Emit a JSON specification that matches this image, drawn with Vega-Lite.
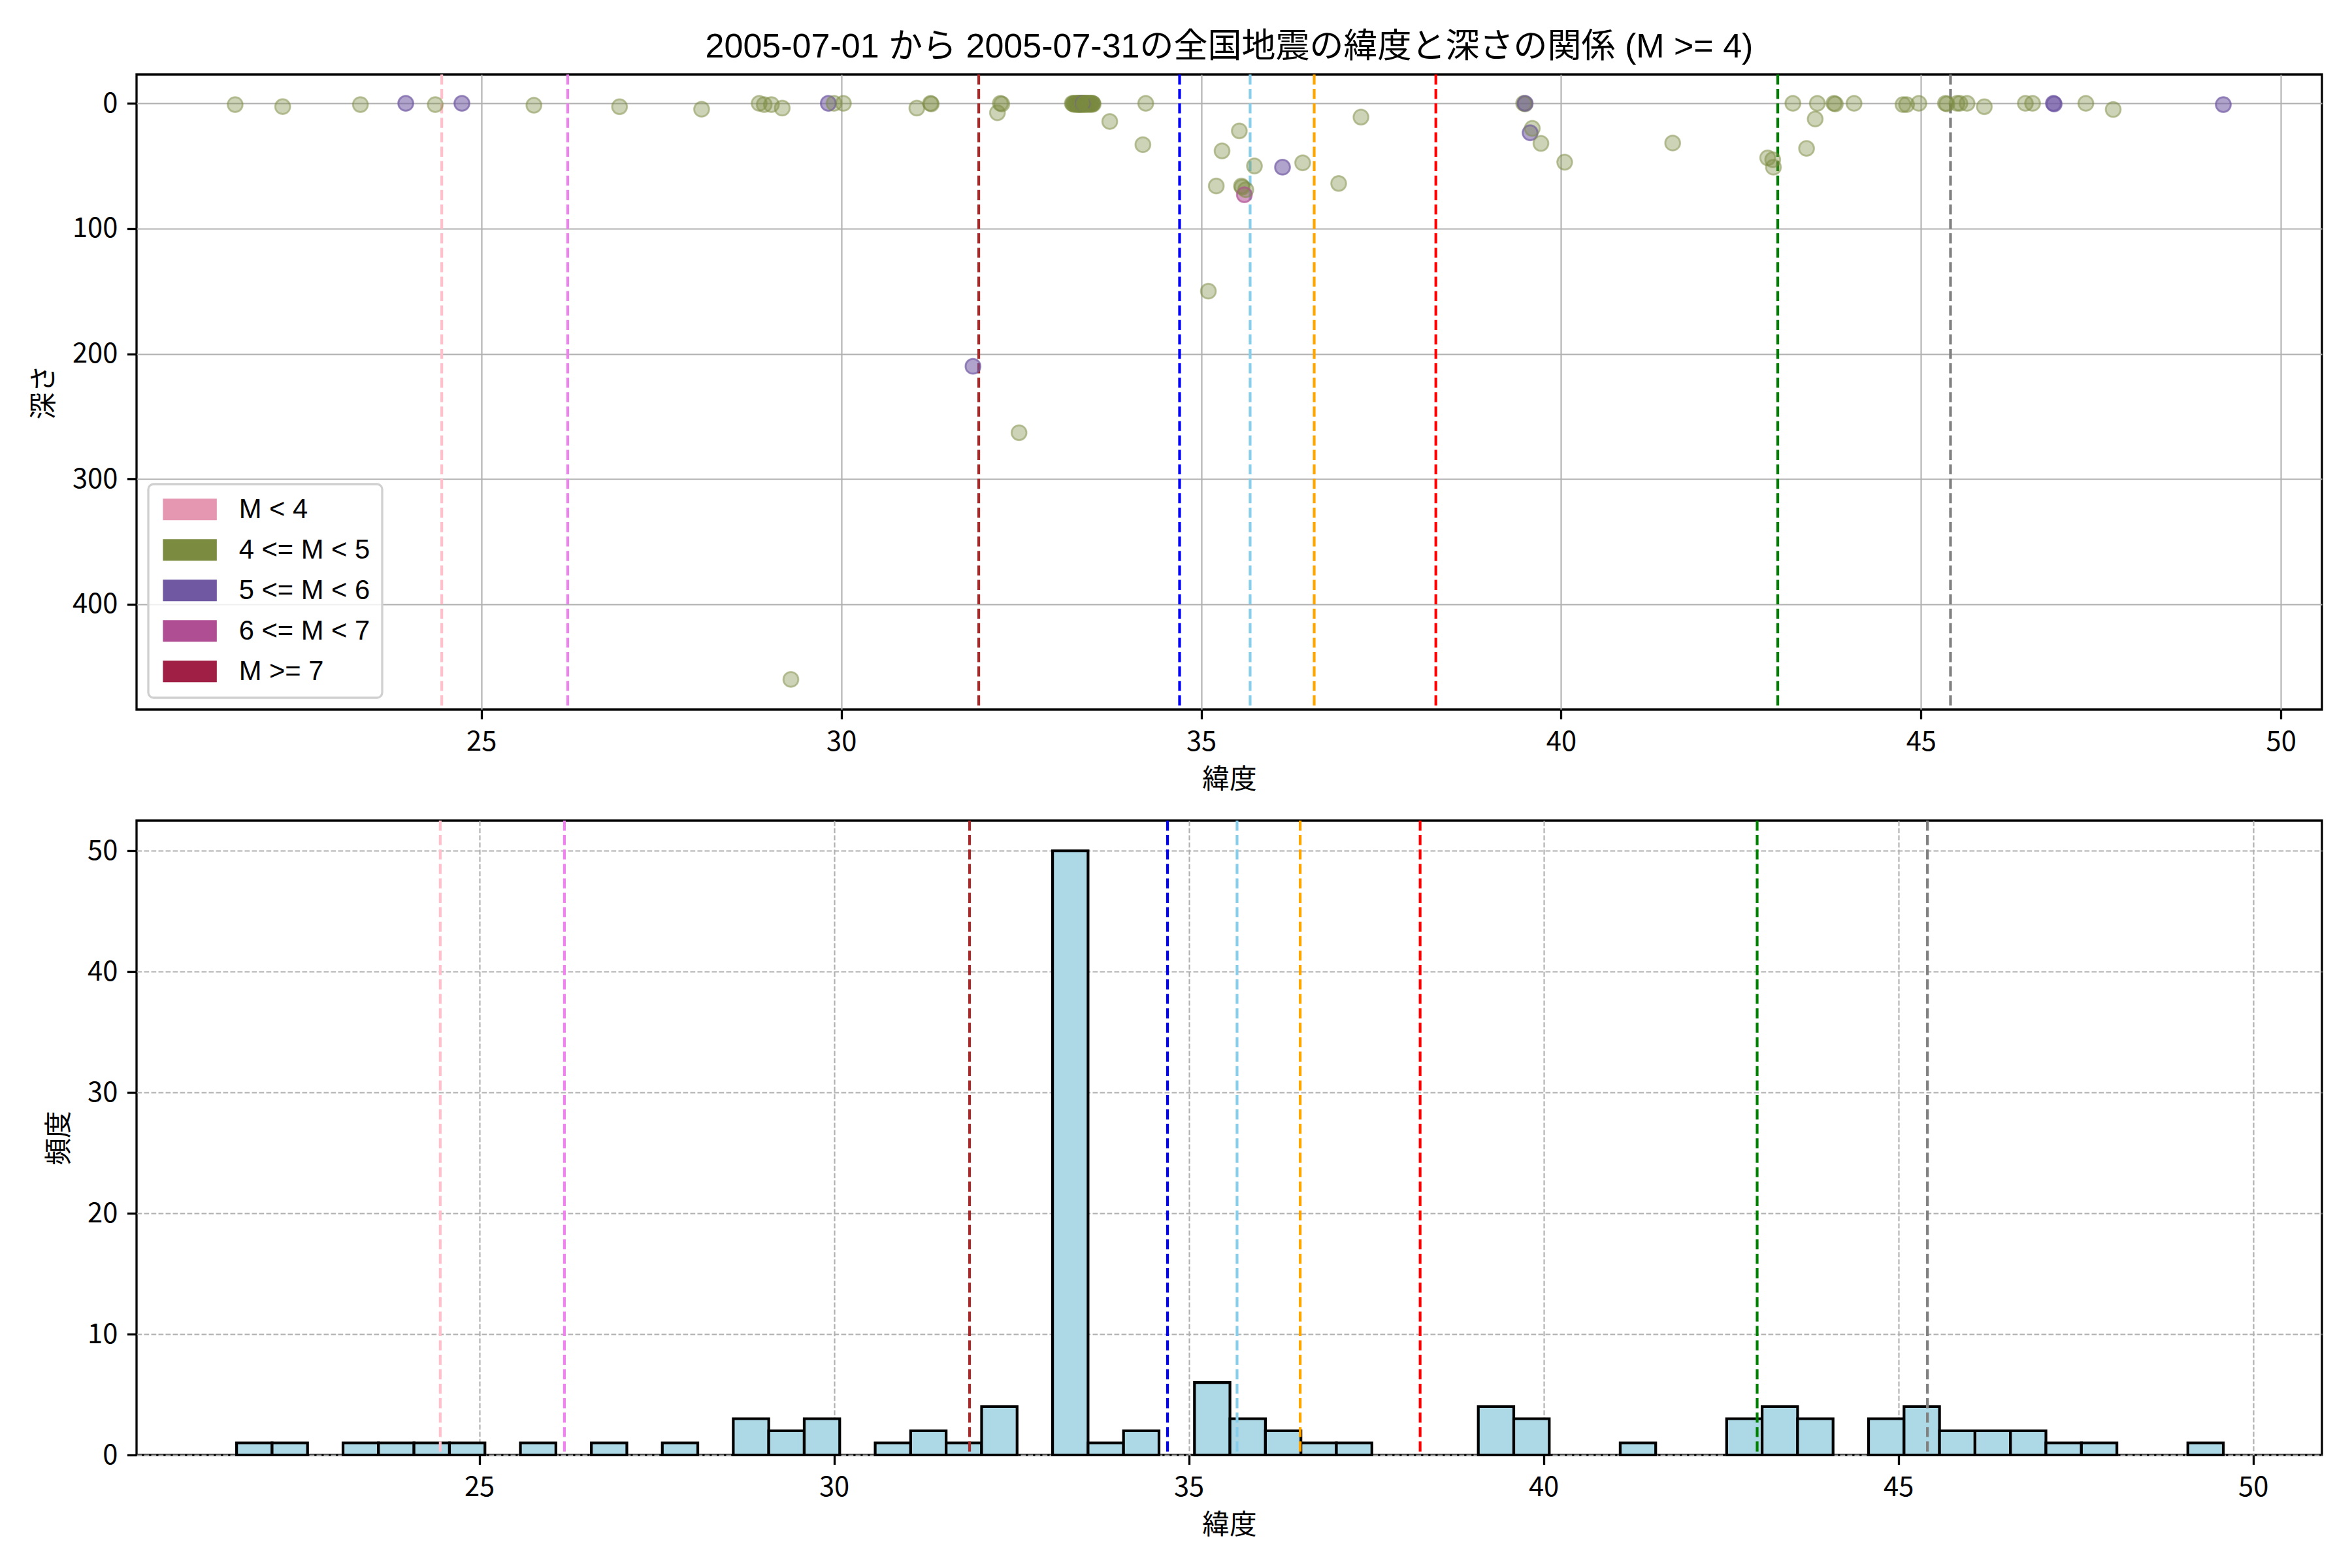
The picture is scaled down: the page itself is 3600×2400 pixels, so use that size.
{
  "$schema": "https://vega.github.io/schema/vega-lite/v6.json",
  "autosize": {"type": "none"},
  "padding": {"left": 209, "top": 114, "right": 3391, "bottom": 2286},
  "background": "white",
  "bounds": "flush",
  "spacing": 170,
  "resolve": {"scale": {"color": "independent"}, "legend": {"color": "independent"}},
  "config": {
    "font": "Noto Sans CJK JP",
    "view": {"stroke": "black", "strokeWidth": 3.3},
    "axis": {
      "labelFont": "Noto Sans CJK JP", "labelFontSize": 41.7, "labelColor": "black",
      "titleFont": "Noto Sans CJK JP", "titleFontSize": 41.7, "titleFontWeight": "normal", "titleColor": "black",
      "tickSize": 14.6, "tickWidth": 3.3, "tickColor": "black",
      "labelPadding": 14.6, "titlePadding": 16.7,
      "domain": false, "format": "d",
      "gridColor": "#b0b0b0", "gridWidth": 2.1, "gridOpacity": 1,
      "zindex": 1
    },
    "axisY": {"titlePadding": 21}
  },
  "datasets": {
    "quakes": [
      {"lat": 21.58, "depth": 1, "mag_class": "4 <= M < 5"},
      {"lat": 22.24, "depth": 2.6, "mag_class": "4 <= M < 5"},
      {"lat": 23.32, "depth": 1, "mag_class": "4 <= M < 5"},
      {"lat": 23.95, "depth": 0, "mag_class": "5 <= M < 6"},
      {"lat": 24.36, "depth": 1, "mag_class": "4 <= M < 5"},
      {"lat": 24.73, "depth": 0, "mag_class": "5 <= M < 6"},
      {"lat": 25.73, "depth": 1.5, "mag_class": "4 <= M < 5"},
      {"lat": 26.92, "depth": 2.7, "mag_class": "4 <= M < 5"},
      {"lat": 28.06, "depth": 4.7, "mag_class": "4 <= M < 5"},
      {"lat": 28.86, "depth": 0, "mag_class": "4 <= M < 5"},
      {"lat": 28.93, "depth": 1, "mag_class": "4 <= M < 5"},
      {"lat": 29.03, "depth": 1, "mag_class": "4 <= M < 5"},
      {"lat": 29.18, "depth": 3.8, "mag_class": "4 <= M < 5"},
      {"lat": 29.30, "depth": 460, "mag_class": "4 <= M < 5"},
      {"lat": 29.82, "depth": 0, "mag_class": "5 <= M < 6"},
      {"lat": 29.90, "depth": 0, "mag_class": "4 <= M < 5"},
      {"lat": 30.03, "depth": 0, "mag_class": "4 <= M < 5"},
      {"lat": 31.05, "depth": 3.8, "mag_class": "4 <= M < 5"},
      {"lat": 31.24, "depth": 0, "mag_class": "4 <= M < 5"},
      {"lat": 31.25, "depth": 0.5, "mag_class": "4 <= M < 5"},
      {"lat": 31.83, "depth": 210, "mag_class": "5 <= M < 6"},
      {"lat": 32.17, "depth": 7.5, "mag_class": "4 <= M < 5"},
      {"lat": 32.21, "depth": 0, "mag_class": "4 <= M < 5"},
      {"lat": 32.23, "depth": 0.5, "mag_class": "4 <= M < 5"},
      {"lat": 32.47, "depth": 263, "mag_class": "4 <= M < 5"},
      {"lat": 33.21, "depth": 0, "mag_class": "4 <= M < 5"},
      {"lat": 33.22, "depth": 0.5, "mag_class": "4 <= M < 5"},
      {"lat": 33.23, "depth": 0, "mag_class": "4 <= M < 5"},
      {"lat": 33.24, "depth": 1, "mag_class": "4 <= M < 5"},
      {"lat": 33.25, "depth": 0, "mag_class": "4 <= M < 5"},
      {"lat": 33.26, "depth": 0.5, "mag_class": "4 <= M < 5"},
      {"lat": 33.27, "depth": 0, "mag_class": "4 <= M < 5"},
      {"lat": 33.28, "depth": 0, "mag_class": "4 <= M < 5"},
      {"lat": 33.28, "depth": 1, "mag_class": "4 <= M < 5"},
      {"lat": 33.29, "depth": 0, "mag_class": "4 <= M < 5"},
      {"lat": 33.29, "depth": 0.5, "mag_class": "4 <= M < 5"},
      {"lat": 33.30, "depth": 0, "mag_class": "4 <= M < 5"},
      {"lat": 33.30, "depth": 1, "mag_class": "4 <= M < 5"},
      {"lat": 33.30, "depth": 0, "mag_class": "4 <= M < 5"},
      {"lat": 33.31, "depth": 0.5, "mag_class": "4 <= M < 5"},
      {"lat": 33.31, "depth": 0, "mag_class": "4 <= M < 5"},
      {"lat": 33.32, "depth": 0, "mag_class": "4 <= M < 5"},
      {"lat": 33.32, "depth": 1, "mag_class": "4 <= M < 5"},
      {"lat": 33.33, "depth": 0, "mag_class": "4 <= M < 5"},
      {"lat": 33.33, "depth": 0.5, "mag_class": "4 <= M < 5"},
      {"lat": 33.33, "depth": 0, "mag_class": "4 <= M < 5"},
      {"lat": 33.34, "depth": 0, "mag_class": "4 <= M < 5"},
      {"lat": 33.34, "depth": 1, "mag_class": "4 <= M < 5"},
      {"lat": 33.35, "depth": 0, "mag_class": "4 <= M < 5"},
      {"lat": 33.35, "depth": 0.5, "mag_class": "4 <= M < 5"},
      {"lat": 33.35, "depth": 0, "mag_class": "4 <= M < 5"},
      {"lat": 33.36, "depth": 0, "mag_class": "4 <= M < 5"},
      {"lat": 33.36, "depth": 0, "mag_class": "5 <= M < 6"},
      {"lat": 33.37, "depth": 0, "mag_class": "4 <= M < 5"},
      {"lat": 33.37, "depth": 1, "mag_class": "4 <= M < 5"},
      {"lat": 33.38, "depth": 0, "mag_class": "4 <= M < 5"},
      {"lat": 33.38, "depth": 0.5, "mag_class": "4 <= M < 5"},
      {"lat": 33.39, "depth": 0, "mag_class": "4 <= M < 5"},
      {"lat": 33.39, "depth": 0, "mag_class": "4 <= M < 5"},
      {"lat": 33.40, "depth": 1, "mag_class": "4 <= M < 5"},
      {"lat": 33.40, "depth": 0, "mag_class": "4 <= M < 5"},
      {"lat": 33.41, "depth": 0, "mag_class": "4 <= M < 5"},
      {"lat": 33.41, "depth": 0.5, "mag_class": "4 <= M < 5"},
      {"lat": 33.42, "depth": 0, "mag_class": "4 <= M < 5"},
      {"lat": 33.43, "depth": 0, "mag_class": "4 <= M < 5"},
      {"lat": 33.44, "depth": 1, "mag_class": "4 <= M < 5"},
      {"lat": 33.44, "depth": 0, "mag_class": "4 <= M < 5"},
      {"lat": 33.45, "depth": 0, "mag_class": "4 <= M < 5"},
      {"lat": 33.46, "depth": 0.5, "mag_class": "4 <= M < 5"},
      {"lat": 33.46, "depth": 0, "mag_class": "4 <= M < 5"},
      {"lat": 33.47, "depth": 0, "mag_class": "4 <= M < 5"},
      {"lat": 33.48, "depth": 1, "mag_class": "4 <= M < 5"},
      {"lat": 33.49, "depth": 0, "mag_class": "4 <= M < 5"},
      {"lat": 33.49, "depth": 0, "mag_class": "4 <= M < 5"},
      {"lat": 33.50, "depth": 0.5, "mag_class": "4 <= M < 5"},
      {"lat": 33.73, "depth": 14.5, "mag_class": "4 <= M < 5"},
      {"lat": 34.19, "depth": 33, "mag_class": "4 <= M < 5"},
      {"lat": 34.23, "depth": 0, "mag_class": "4 <= M < 5"},
      {"lat": 35.10, "depth": 150, "mag_class": "4 <= M < 5"},
      {"lat": 35.21, "depth": 66, "mag_class": "4 <= M < 5"},
      {"lat": 35.29, "depth": 38, "mag_class": "4 <= M < 5"},
      {"lat": 35.53, "depth": 22, "mag_class": "4 <= M < 5"},
      {"lat": 35.56, "depth": 66, "mag_class": "4 <= M < 5"},
      {"lat": 35.57, "depth": 67, "mag_class": "4 <= M < 5"},
      {"lat": 35.60, "depth": 73, "mag_class": "6 <= M < 7"},
      {"lat": 35.62, "depth": 69, "mag_class": "4 <= M < 5"},
      {"lat": 35.74, "depth": 50, "mag_class": "4 <= M < 5"},
      {"lat": 36.13, "depth": 51, "mag_class": "5 <= M < 6"},
      {"lat": 36.41, "depth": 47.5, "mag_class": "4 <= M < 5"},
      {"lat": 36.91, "depth": 64, "mag_class": "4 <= M < 5"},
      {"lat": 37.22, "depth": 11, "mag_class": "4 <= M < 5"},
      {"lat": 39.48, "depth": 0, "mag_class": "4 <= M < 5"},
      {"lat": 39.50, "depth": 0.5, "mag_class": "4 <= M < 5"},
      {"lat": 39.50, "depth": 0, "mag_class": "5 <= M < 6"},
      {"lat": 39.57, "depth": 23.5, "mag_class": "5 <= M < 6"},
      {"lat": 39.60, "depth": 20, "mag_class": "4 <= M < 5"},
      {"lat": 39.72, "depth": 32, "mag_class": "4 <= M < 5"},
      {"lat": 40.05, "depth": 47, "mag_class": "4 <= M < 5"},
      {"lat": 41.55, "depth": 31.7, "mag_class": "4 <= M < 5"},
      {"lat": 42.87, "depth": 43.5, "mag_class": "4 <= M < 5"},
      {"lat": 42.94, "depth": 45, "mag_class": "4 <= M < 5"},
      {"lat": 42.95, "depth": 51, "mag_class": "4 <= M < 5"},
      {"lat": 43.22, "depth": 0, "mag_class": "4 <= M < 5"},
      {"lat": 43.41, "depth": 36, "mag_class": "4 <= M < 5"},
      {"lat": 43.53, "depth": 12.5, "mag_class": "4 <= M < 5"},
      {"lat": 43.56, "depth": 0, "mag_class": "4 <= M < 5"},
      {"lat": 43.79, "depth": 0, "mag_class": "4 <= M < 5"},
      {"lat": 43.81, "depth": 0.5, "mag_class": "4 <= M < 5"},
      {"lat": 44.07, "depth": 0, "mag_class": "4 <= M < 5"},
      {"lat": 44.75, "depth": 1, "mag_class": "4 <= M < 5"},
      {"lat": 44.80, "depth": 1, "mag_class": "4 <= M < 5"},
      {"lat": 44.97, "depth": 0, "mag_class": "4 <= M < 5"},
      {"lat": 45.34, "depth": 0, "mag_class": "4 <= M < 5"},
      {"lat": 45.36, "depth": 0.5, "mag_class": "4 <= M < 5"},
      {"lat": 45.50, "depth": 0, "mag_class": "4 <= M < 5"},
      {"lat": 45.54, "depth": 0, "mag_class": "4 <= M < 5"},
      {"lat": 45.64, "depth": 0, "mag_class": "4 <= M < 5"},
      {"lat": 45.88, "depth": 2.7, "mag_class": "4 <= M < 5"},
      {"lat": 46.45, "depth": 0, "mag_class": "4 <= M < 5"},
      {"lat": 46.55, "depth": 0, "mag_class": "4 <= M < 5"},
      {"lat": 46.84, "depth": 0, "mag_class": "5 <= M < 6"},
      {"lat": 46.85, "depth": 0.5, "mag_class": "5 <= M < 6"},
      {"lat": 47.29, "depth": 0, "mag_class": "4 <= M < 5"},
      {"lat": 47.67, "depth": 4.9, "mag_class": "4 <= M < 5"},
      {"lat": 49.20, "depth": 1, "mag_class": "5 <= M < 6"}
    ],
    "hist": [
      {"bin_start": 21.58, "bin_end": 22.08, "count": 1},
      {"bin_start": 22.08, "bin_end": 22.58, "count": 1},
      {"bin_start": 23.08, "bin_end": 23.58, "count": 1},
      {"bin_start": 23.58, "bin_end": 24.08, "count": 1},
      {"bin_start": 24.08, "bin_end": 24.58, "count": 1},
      {"bin_start": 24.58, "bin_end": 25.08, "count": 1},
      {"bin_start": 25.58, "bin_end": 26.08, "count": 1},
      {"bin_start": 26.58, "bin_end": 27.08, "count": 1},
      {"bin_start": 27.58, "bin_end": 28.08, "count": 1},
      {"bin_start": 28.58, "bin_end": 29.08, "count": 3},
      {"bin_start": 29.08, "bin_end": 29.58, "count": 2},
      {"bin_start": 29.58, "bin_end": 30.08, "count": 3},
      {"bin_start": 30.58, "bin_end": 31.08, "count": 1},
      {"bin_start": 31.08, "bin_end": 31.58, "count": 2},
      {"bin_start": 31.58, "bin_end": 32.08, "count": 1},
      {"bin_start": 32.08, "bin_end": 32.58, "count": 4},
      {"bin_start": 33.08, "bin_end": 33.58, "count": 50},
      {"bin_start": 33.58, "bin_end": 34.08, "count": 1},
      {"bin_start": 34.08, "bin_end": 34.58, "count": 2},
      {"bin_start": 35.08, "bin_end": 35.58, "count": 6},
      {"bin_start": 35.58, "bin_end": 36.08, "count": 3},
      {"bin_start": 36.08, "bin_end": 36.58, "count": 2},
      {"bin_start": 36.58, "bin_end": 37.08, "count": 1},
      {"bin_start": 37.08, "bin_end": 37.58, "count": 1},
      {"bin_start": 39.08, "bin_end": 39.58, "count": 4},
      {"bin_start": 39.58, "bin_end": 40.08, "count": 3},
      {"bin_start": 41.08, "bin_end": 41.58, "count": 1},
      {"bin_start": 42.58, "bin_end": 43.08, "count": 3},
      {"bin_start": 43.08, "bin_end": 43.58, "count": 4},
      {"bin_start": 43.58, "bin_end": 44.08, "count": 3},
      {"bin_start": 44.58, "bin_end": 45.08, "count": 3},
      {"bin_start": 45.08, "bin_end": 45.58, "count": 4},
      {"bin_start": 45.58, "bin_end": 46.08, "count": 2},
      {"bin_start": 46.08, "bin_end": 46.58, "count": 2},
      {"bin_start": 46.58, "bin_end": 47.08, "count": 2},
      {"bin_start": 47.08, "bin_end": 47.58, "count": 1},
      {"bin_start": 47.58, "bin_end": 48.08, "count": 1},
      {"bin_start": 49.08, "bin_end": 49.58, "count": 1}
    ],
    "cities": [
      {"lat": 24.45, "color": "#ffc0cb"},
      {"lat": 26.20, "color": "#ee82ee"},
      {"lat": 31.91, "color": "#a52a2a"},
      {"lat": 34.70, "color": "#0000ff"},
      {"lat": 35.68, "color": "#87ceeb"},
      {"lat": 36.57, "color": "#ffa500"},
      {"lat": 38.26, "color": "#ff0000"},
      {"lat": 43.01, "color": "#008000"},
      {"lat": 45.41, "color": "#808080"}
    ]
  },
  "vconcat": [
    {
      "title": {"text": "2005-07-01 から 2005-07-31の全国地震の緯度と深さの関係 (M >= 4)", "font": "Liberation Sans, Noto Sans CJK JP", "fontSize": 52, "fontWeight": "normal", "color": "black", "anchor": "middle", "offset": 13},
      "width": 3345,
      "height": 972,
      "layer": [
        {
          "data": {"name": "cities"},
          "mark": {"type": "rule", "strokeDash": [15.4, 6.7], "strokeWidth": 4.2},
          "encoding": {
            "x": {"field": "lat", "type": "quantitative", "scale": {"domain": [20.21, 50.57], "nice": false, "zero": false}, "axis": {"title": "緯度", "values": [25, 30, 35, 40, 45, 50], "grid": true}},
            "stroke": {"field": "color", "type": "nominal", "scale": null}
          }
        },
        {
          "data": {"name": "quakes"},
          "mark": {"type": "point", "shape": "circle", "filled": true, "opacity": 1, "strokeWidth": 0, "size": 600},
          "encoding": {
            "x": {"field": "lat", "type": "quantitative"},
            "y": {"field": "depth", "type": "quantitative", "scale": {"domain": [-23.05, 484.05], "reverse": true, "nice": false, "zero": false}, "axis": {"title": "深さ", "values": [0, 100, 200, 300, 400], "grid": true}},
            "fillOpacity": {"condition": {"test": "datum.mag_class !== '4 <= M < 5'", "value": 0.55}, "value": 0.38},
            "color": {
              "field": "mag_class", "type": "nominal",
              "scale": {"domain": ["M < 4", "4 <= M < 5", "5 <= M < 6", "6 <= M < 7", "M >= 7"], "range": ["#e597b2", "#7b8c41", "#7058a3", "#b04e94", "#a01f44"]},
              "legend": {
                "title": null, "orient": "bottom-left", "offset": 18,
                "fillColor": "rgba(255,255,255,0.8)", "strokeColor": "#d0d0d0", "cornerRadius": 8,
                "padding": 18,
                "labelFont": "Liberation Sans", "labelFontSize": 41.7, "labelColor": "black", "labelLimit": 1000,
                "symbolType": "M-1,-1H4V1H-1Z", "symbolSize": 1089, "symbolOpacity": 1, "symbolStrokeWidth": 0,
                "labelOffset": 79, "rowPadding": 19,
                "encode": {
                  "legend": {"update": {"strokeWidth": {"value": 3.3}}},
                  "symbols": {"update": {"fillOpacity": {"value": 1}, "strokeOpacity": {"value": 0}, "opacity": {"value": 1}}}
                }
              }
            }
          }
        },
        {
          "data": {"name": "quakes"},
          "mark": {"type": "point", "shape": "circle", "filled": false, "opacity": 1, "strokeWidth": 3, "size": 520},
          "encoding": {
            "x": {"field": "lat", "type": "quantitative"},
            "y": {"field": "depth", "type": "quantitative"},
            "strokeOpacity": {"condition": {"test": "datum.mag_class !== '4 <= M < 5'", "value": 0.55}, "value": 0.38},
            "color": {"field": "mag_class", "type": "nominal"}
          }
        }
      ]
    },
    {
      "width": 3345,
      "height": 971,
      "layer": [
        {
          "data": {"name": "hist"},
          "mark": {"type": "bar", "fill": "#add8e6", "stroke": "black", "strokeWidth": 4.2},
          "encoding": {
            "x": {"field": "bin_start", "type": "quantitative", "scale": {"domain": [20.17, 50.97], "nice": false, "zero": false}, "axis": {"title": "緯度", "values": [25, 30, 35, 40, 45, 50], "grid": true, "gridDash": [7.7, 3.3]}},
            "x2": {"field": "bin_end"},
            "y": {"field": "count", "type": "quantitative", "scale": {"domain": [0, 52.5], "nice": false}, "axis": {"title": "頻度", "values": [0, 10, 20, 30, 40, 50], "grid": true, "gridDash": [7.7, 3.3]}},
            "y2": {"datum": 0}
          }
        },
        {
          "data": {"name": "cities"},
          "mark": {"type": "rule", "strokeDash": [15.4, 6.7], "strokeWidth": 4.2},
          "encoding": {
            "x": {"field": "lat", "type": "quantitative"},
            "stroke": {"field": "color", "type": "nominal", "scale": null}
          }
        }
      ]
    }
  ]
}
